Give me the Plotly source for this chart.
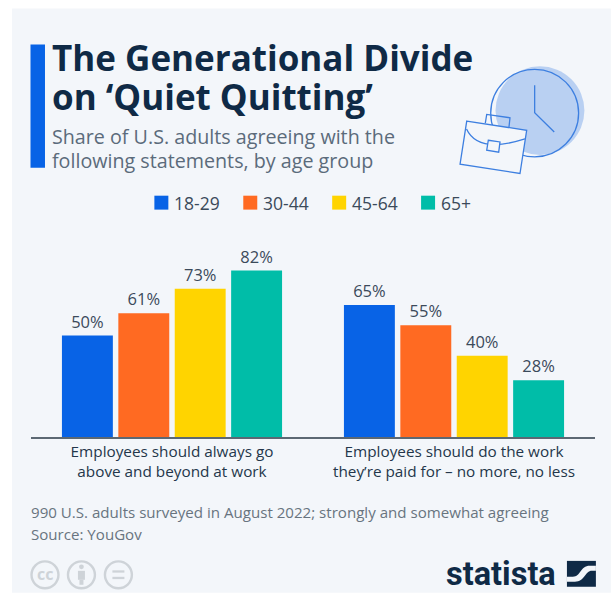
import plotly.graph_objects as go

W, H = 611, 594

# Chart data
statements = ["Employees should always go<br>above and beyond at work",
              "Employees should do the work<br>they’re paid for – no more, no less"]
age_groups = ["18-29", "30-44", "45-64", "65+"]
share_18_29 = [50, 65]
share_30_44 = [61, 55]
share_45_64 = [73, 40]
share_65_plus = [82, 28]
series_values = [share_18_29, share_30_44, share_45_64, share_65_plus]
colors = ["#0863e6", "#ff6a22", "#ffd400", "#00bda8"]

BG = "#f3f6fa"
NAVY = "#0f2a46"
BADGE = "#ced3d8"
FONT = "Open Sans"

# Plot frame in pixels
L, R, T, B = 30.5, 595.1, 233.5, 437.5


def px(x):
    return (x - L) / (R - L)


def py(y):
    return (B - y) / (B - T)


def pt(x, y):
    return f"{px(x):.5f},{py(y):.5f}"


def path(points, close=True):
    d = "M" + " L".join(pt(x, y) for x, y in points)
    return d + (" Z" if close else "")


def rect(x0, y0, x1, y1, fill, layer="below"):
    return dict(type="rect", xref="paper", yref="paper", x0=px(x0), x1=px(x1),
                y0=py(y0), y1=py(y1), fillcolor=fill, line_width=0, layer=layer)


def circle(cx, cy, r, fill="rgba(0,0,0,0)", line="rgba(0,0,0,0)", lw=1.3):
    return dict(type="circle", xref="paper", yref="paper", x0=px(cx - r), x1=px(cx + r),
                y0=py(cy + r), y1=py(cy - r), fillcolor=fill,
                line=dict(color=line, width=lw), layer="above")


def poly(points, fill="rgba(0,0,0,0)", line="#3d7fe0", lw=1.3, close=True):
    return dict(type="path", xref="paper", yref="paper", path=path(points, close),
                fillcolor=fill, line=dict(color=line, width=lw), layer="above")


def label(x, y, text, size, color, anchor="left", weight=None, family=FONT):
    return dict(xref="paper", yref="paper", x=px(x), y=py(y), text=text, showarrow=False,
                xanchor=anchor, yanchor="middle", align=anchor,
                font=dict(family=family, size=size, color=color, weight=weight),
                borderpad=0, borderwidth=0)


fig = go.Figure()
for name, values, color in zip(age_groups, series_values, colors):
    fig.add_bar(x=statements, y=values, name=name, marker=dict(color=color, line_width=0),
                text=[f"{v}%" for v in values], textposition="outside", cliponaxis=False,
                textfont=dict(family=FONT, size=16.5, color="#3b4a5a"), showlegend=False)

shapes = [rect(11.5, 7, W, H, BG), rect(30, 43, 44.5, 167, "#0863e6")]

# Clock and briefcase illustration
shapes += [
    circle(540, 109.5, 44.5, fill="#b9d0f2"),
    circle(534.7, 112, 44, line="#3d7fe0"),
    poly([(534.7, 84), (534.7, 111.7), (554.3, 131)], close=False),
    poly([(485.3, 122), (486.7, 113.3), (510, 116.7), (509, 126)], close=False),
    poly([(466.7, 120), (526.7, 129.3), (520, 172.7), (460, 163.3)], fill=BG),
    dict(type="path", xref="paper", yref="paper",
         path=f"M{pt(466.5, 128)} Q{pt(478, 153)} {pt(525, 138)}",
         line=dict(color="#3d7fe0", width=1.3), layer="above"),
    poly([(488.3, 139.3), (500, 141), (498.7, 151.3), (486.7, 149.3)], fill=BG),
]

# Legend swatches
legend_x = [154, 243, 332, 421]
for x, color in zip(legend_x, colors):
    shapes.append(rect(x, 195, x + 14, 209, color))

# Licence badges
for cx in (44.5, 81, 118):
    shapes.append(circle(cx, 576, 13.5, line=BADGE, lw=2.4))
shapes += [
    circle(81, 568, 2.4, fill=BADGE),
    rect(77.5, 572, 84.5, 581, BADGE, "above"),
    rect(79, 581, 83, 586, BADGE, "above"),
    rect(112, 571.5, 124, 573.8, BADGE, "above"),
    rect(112, 578, 124, 580.3, BADGE, "above"),
]

# Logo mark: dark square crossed by a light S-shaped band
shapes += [
    poly([(567, 562), (596, 562), (596, 588), (567, 588)], fill=NAVY, line=NAVY, lw=0),
    dict(type="path", xref="paper", yref="paper",
         path=(f"M{pt(567, 578)} L{pt(573, 578)} C{pt(581, 578)} {pt(580, 567)} {pt(590, 567)} "
               f"L{pt(596, 567)} L{pt(596, 572)} L{pt(592, 572)} C{pt(585, 572)} {pt(585, 583)} "
               f"{pt(575, 583)} L{pt(567, 583)} Z"),
         fillcolor=BG, line_width=0, layer="above"),
]

annotations = [
    label(52, 56, "The Generational Divide", 35, NAVY, weight=700),
    label(52, 95, "on ‘Quiet Quitting’", 35, NAVY, weight=700),
    label(52, 136, "Share of U.S. adults agreeing with the", 19.7, "#5b6b7b"),
    label(52, 160, "following statements, by age group", 19.7, "#5b6b7b"),
    label(30, 513, "990 U.S. adults surveyed in August 2022; strongly and somewhat agreeing",
          15.1, "#68747f"),
    label(30, 535, "Source: YouGov", 15.1, "#68747f"),
    label(44.5, 575, "cc", 16, BADGE, anchor="center", weight=700),
    label(446, 575, "statista", 32.5, NAVY, weight=700, family="Roboto"),
]
for x, name in zip(legend_x, age_groups):
    annotations.append(label(x + 20, 202, name, 17.5, "#3b4a5a"))

fig.update_layout(
    width=W, height=H, autosize=False,
    margin=dict(l=L, r=W - R, t=T, b=H - B, pad=0),
    paper_bgcolor="white", plot_bgcolor="rgba(0,0,0,0)",
    barmode="group", bargap=0.2, bargroupgap=0.097,
    shapes=shapes, annotations=annotations,
    xaxis=dict(showgrid=False, showline=True, linecolor="#5c6873", linewidth=1.5,
               ticks="", fixedrange=True,
               tickfont=dict(family=FONT, size=15.3, color="#24364a")),
    yaxis=dict(range=[0, 100], visible=False, showgrid=False, zeroline=False, fixedrange=True),
)

fig.write_html("out.html", config=dict(displayModeBar=False))
